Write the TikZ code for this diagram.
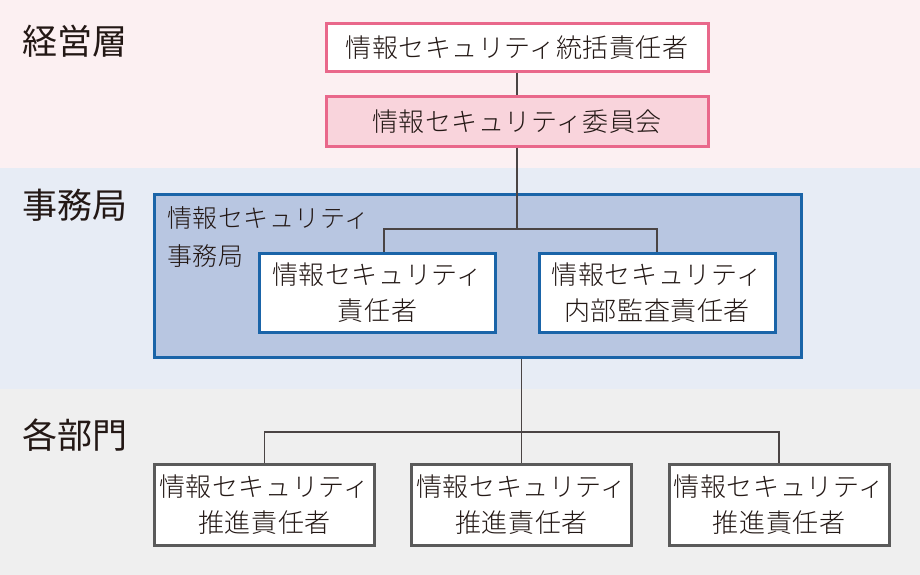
\documentclass[tikz,border=0pt]{standalone}
\usepackage{fontspec}
\newfontfamily\jpfont[UprightFont={* Light},LetterSpace=2]{Noto Sans CJK JP}
\newfontfamily\jpbandfont{Noto Sans CJK JP}
\definecolor{bandpink}{HTML}{FCF0F2}
\definecolor{bandblue}{HTML}{E7ECF5}
\definecolor{bandgrey}{HTML}{EFEFEF}
\definecolor{rosepink}{HTML}{E9688B}
\definecolor{cmtefill}{HTML}{F9D4DC}
\definecolor{officefill}{HTML}{B8C6E1}
\definecolor{officeblue}{HTML}{1A64A8}
\definecolor{unitgrey}{HTML}{5A5A5A}
\definecolor{linegrey}{HTML}{4A4444}
\definecolor{inkblack}{HTML}{231815}
\begin{document}
\begin{tikzpicture}
[x=1pt,y=-1pt,
  bandlabel/.style={anchor=west,inner sep=0pt,text=inkblack,font=\jpbandfont\fontsize{35}{40}\selectfont},
  boxdecorate/.style={shape=rectangle,inner sep=0pt,align=center,text=inkblack,font=\jpfont\fontsize{26}{36}\selectfont},
  chiefdecorate/.style={boxdecorate,draw=rosepink,line width=3pt,fill=white,minimum width=382pt,minimum height=48pt},
  cmtedecorate/.style={boxdecorate,draw=rosepink,line width=3pt,fill=cmtefill,minimum width=382pt,minimum height=49pt},
  officedecorate/.style={shape=rectangle,inner sep=0pt,draw=officeblue,line width=3pt,fill=officefill,minimum width=647pt,minimum height=163pt},
  officelabeldecorate/.style={anchor=west,inner sep=0pt,align=left,text=inkblack,font=\jpfont\fontsize{25}{37.5}\selectfont},
  secdecorate/.style={boxdecorate,draw=officeblue,line width=3pt,fill=white,minimum width=236pt,minimum height=79pt},
  unitdecorate/.style={boxdecorate,draw=unitgrey,line width=3pt,fill=white,minimum width=220pt,minimum height=81pt},
  linedecorate/.style={-,draw=linegrey,line width=1.2pt}]
%%% background bands
\fill[bandpink] (0,0) rectangle (920,168);
\fill[bandblue] (0,168) rectangle (920,389);
\fill[bandgrey] (0,389) rectangle (920,575);
\useasboundingbox (0,0) rectangle (920,575);
% band labels
\node (mgmt) at (22,41) [bandlabel] {経営層};
\node (secr) at (22,205) [bandlabel] {事務局};
\node (dept) at (22,435) [bandlabel] {各部門};
%
%%% management
% nodes
\node (chief) at (517,48) [chiefdecorate] {情報セキュリティ統括責任者};
\node (cmte) at (517,121.5) [cmtedecorate] {情報セキュリティ委員会};
%
%%% secretariat
% nodes
\node (office) at (477.5,275.5) [officedecorate] {};
\node (officelabel) at (167,237) [officelabeldecorate] {情報セキュリティ\\事務局};
\node (lsec) at (377.5,292.5) [secdecorate] {情報セキュリティ\\責任者};
\node (rsec) at (657,292.5) [secdecorate] {情報セキュリティ\\内部監査責任者};
%
%%% departments
% nodes
\node (unita) at (264.5,504.5) [unitdecorate] {情報セキュリティ\\推進責任者};
\node (unitb) at (521.5,504.5) [unitdecorate] {情報セキュリティ\\推進責任者};
\node (unitc) at (779,504.5) [unitdecorate] {情報セキュリティ\\推進責任者};
% branch points
\coordinate (secsplit) at (517,229);
\coordinate (unitsplit) at (521.5,432);
% edges or lines
\path
(chief) edge[linedecorate] node {} (cmte)
(cmte) edge[linedecorate] node {} (secsplit);
\draw[linedecorate] ([xshift=6.5pt]lsec.north) |- (secsplit) -| (rsec);
\draw[linedecorate] (office.south -| unitb) -- (unitb);
\draw[linedecorate] (unita) |- (unitsplit) -| (unitc);
\end{tikzpicture}
\end{document}
